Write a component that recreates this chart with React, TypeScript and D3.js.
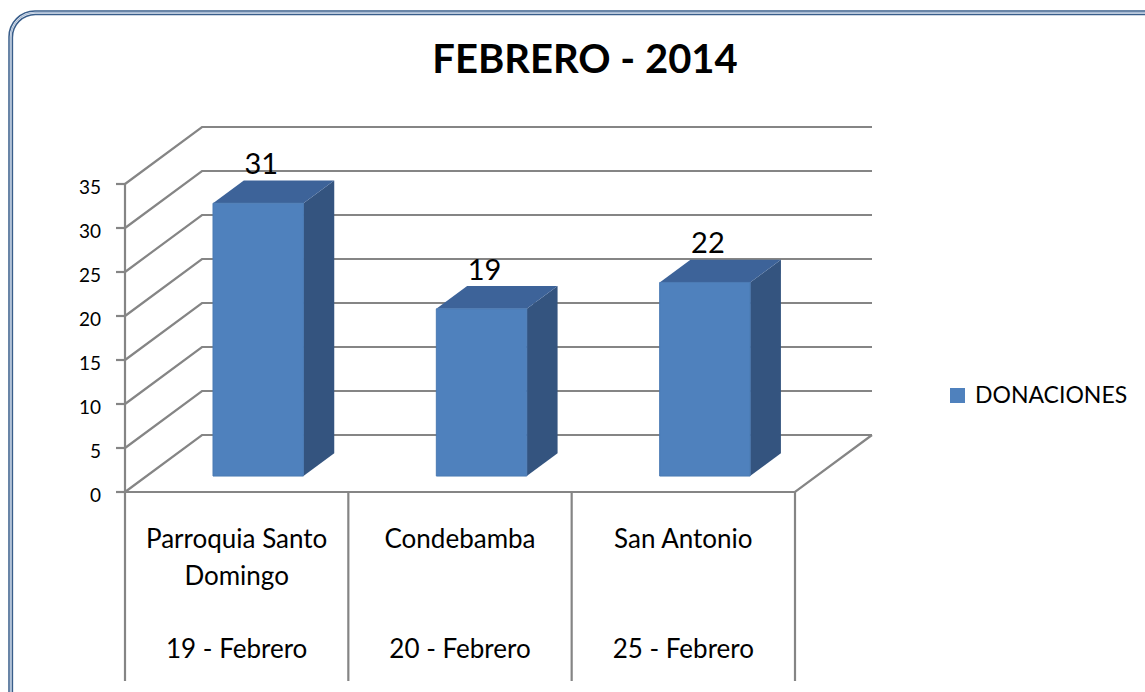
import React from "react";
import * as d3 from "d3";

const title = "FEBRERO - 2014";
const categories = [["Parroquia Santo", "Domingo"], ["Condebamba"], ["San Antonio"]];
const dates = ["19 - Febrero", "20 - Febrero", "25 - Febrero"];
const values = [31, 19, 22];
const seriesName = "DONACIONES";
const yTicks = [0, 5, 10, 15, 20, 25, 30, 35];

const W = 1145, H = 692;
const FONT = "Lato, 'Open Sans', sans-serif";
const DX = 77, DY = -57; // depth offset of the back wall
const D0 = 0.28, D1 = 0.68; // bar depth range

export default function App() {
  const x = d3.scaleBand<number>().domain(d3.range(categories.length)).range([125, 795]);
  const y = d3.scaleLinear().domain([0, 35]).range([492, 184]);
  const bw = x.bandwidth() * 0.405;
  const P = (px: number, v: number, d: number): [number, number] => [px + d * DX, y(v) + d * DY];
  const poly = (pts: [number, number][]) => pts.map((p) => p.join(",")).join(" ");
  const grid = "#858585";

  return (
    <svg width={W} height={H} style={{ position: "absolute", left: 0, top: 0 }}>
      <rect x={0} y={0} width={W} height={H} fill="#fff" />
      {/* border */}
      <rect x={9} y={11} width={1180} height={720} rx={26} ry={26} fill="none" stroke="#385D8A" strokeWidth={1.5} />
      <rect x={10.7} y={12.7} width={1180} height={720} rx={24.5} ry={24.5} fill="none" stroke="#A9BCD6" strokeWidth={1.2} />
      <rect x={12.4} y={14.4} width={1180} height={720} rx={23} ry={23} fill="none" stroke="#385D8A" strokeWidth={1.5} />

      <text x={585} y={73} textAnchor="middle" fontFamily={FONT} fontWeight="bold" fontSize={40} fill="#000">{title}</text>

      {/* gridlines: side wall diagonals and back wall horizontals */}
      {yTicks.map((t) => {
        const a = P(125, t, 0), b = P(125, t, 1), c = P(795, t, 1);
        return (
          <g key={t}>
            <polyline points={poly([a, b, c])} fill="none" stroke={grid} strokeWidth={2.2} />
            <line x1={116} x2={125} y1={a[1]} y2={a[1]} stroke={grid} strokeWidth={2.2} />
            <text x={101} y={a[1] + 10} textAnchor="end" fontFamily={FONT} fontSize={19} fill="#000">{t}</text>
          </g>
        );
      })}
      {/* floor */}
      <polyline points={poly([P(125, 0, 0), P(795, 0, 0), P(795, 0, 1)])} fill="none" stroke={grid} strokeWidth={2.2} />
      {/* front vertical axis */}
      <line x1={125} x2={125} y1={y(35)} y2={y(0)} stroke={grid} strokeWidth={2.2} />
      {/* table lines */}
      {[0, 1, 2, 3].map((i) => {
        const xx = i < 3 ? (x(i) as number) : 795;
        return <line key={i} x1={xx} x2={xx} y1={y(0)} y2={681} stroke={grid} strokeWidth={2.2} />;
      })}

      {/* bars */}
      {values.map((v, i) => {
        const c = (x(i) as number) + x.bandwidth() / 2;
        const l = c - bw / 2, r = c + bw / 2;
        const front = [P(l, 0, D0), P(r, 0, D0), P(r, v, D0), P(l, v, D0)] as [number, number][];
        const top = [P(l, v, D0), P(r, v, D0), P(r, v, D1), P(l, v, D1)] as [number, number][];
        const side = [P(r, 0, D0), P(r, 0, D1), P(r, v, D1), P(r, v, D0)] as [number, number][];
        const ft = P(c, v, D0);
        return (
          <g key={i}>
            <polygon points={poly(side)} fill="#34547F" />
            <polygon points={poly(top)} fill="#3D6399" />
            <polygon points={poly(front)} fill="#4F81BD" stroke="#4A7AB3" strokeWidth={1} />
            <text x={ft[0] + 3} y={ft[1] - 29} textAnchor="middle" fontFamily={FONT} fontSize={29} fill="#000">{v}</text>
          </g>
        );
      })}

      {/* table text */}
      {categories.map((lines, i) => {
        const c = (x(i) as number) + x.bandwidth() / 2;
        return (
          <g key={i} fontFamily={FONT} fontSize={26} fill="#000" textAnchor="middle">
            {lines.map((ln, k) => (
              <text key={k} x={c} y={548 + k * 37}>{ln}</text>
            ))}
            <text x={c} y={658}>{dates[i]}</text>
          </g>
        );
      })}

      {/* legend */}
      <rect x={950} y={388} width={15} height={15} fill="#4F81BD" />
      <text x={975} y={403} fontFamily={FONT} fontSize={23} fill="#000">{seriesName}</text>
    </svg>
  );
}
